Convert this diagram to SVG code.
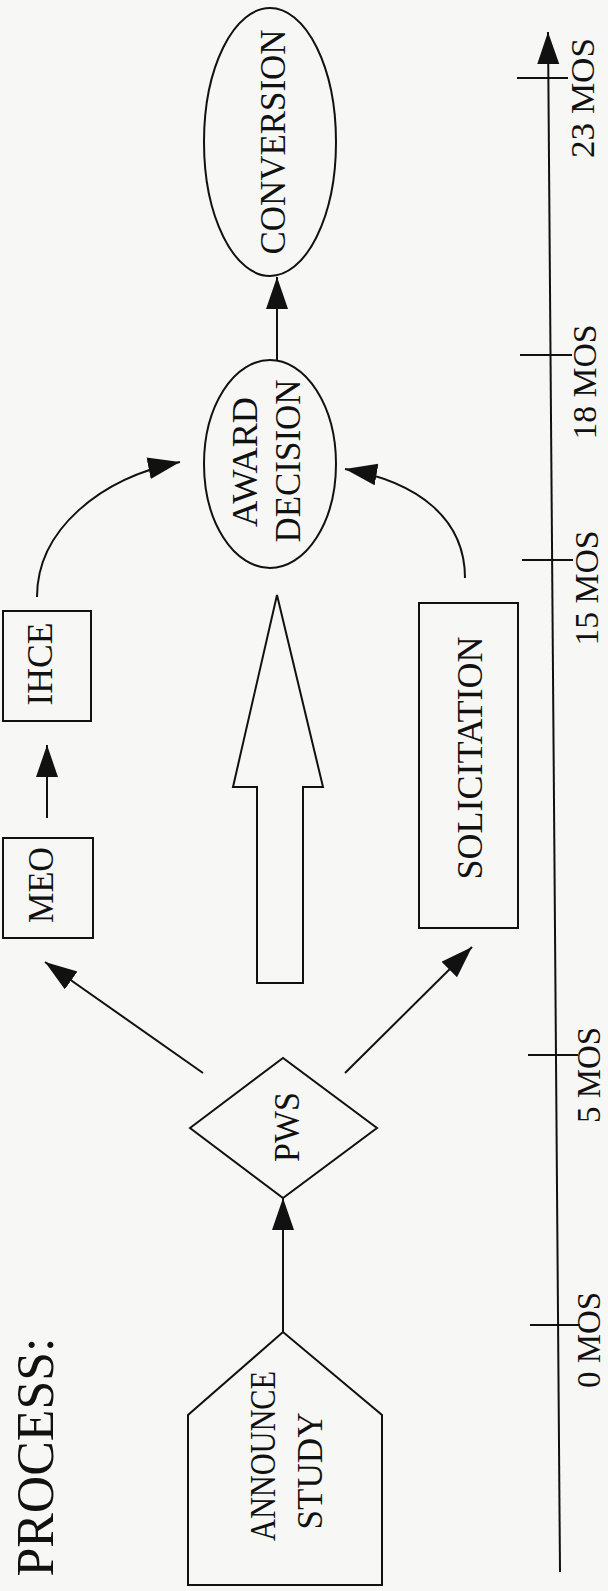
<svg xmlns="http://www.w3.org/2000/svg" width="608" height="1591" viewBox="0 0 608 1591">
<defs>
<marker id="ah" markerUnits="userSpaceOnUse" markerWidth="34" markerHeight="24" refX="32" refY="11" orient="auto">
<path d="M0,0 L32,11 L0,22 Z" fill="#111"/>
</marker>
<style>
.s{fill:none;stroke:#111;stroke-width:2}
.n{fill:#f7f7f5;stroke:#111;stroke-width:2}
.c{fill:none;stroke:#111;stroke-width:2;marker-end:url(#ah)}
text{font-family:"Liberation Serif","Times New Roman",serif;fill:#111;text-anchor:middle}
.t{font-size:35px}
.a{font-size:33px}
</style>
</defs>
<rect x="0" y="0" width="608" height="1591" fill="#f7f7f5"/>
<g id="title">
<text transform="translate(53,1457) rotate(-90)" style="font-size:52px" textLength="239" lengthAdjust="spacingAndGlyphs">PROCESS:</text>
</g>
<g id="connectors">
<line class="c" x1="283" y1="1332" x2="283" y2="1198"/>
<line class="c" x1="203" y1="1073" x2="45" y2="962"/>
<line class="c" x1="345" y1="1073" x2="472" y2="947"/>
<line class="c" x1="47" y1="818" x2="47" y2="745"/>
<path class="c" d="M37,597 C37,530 100,478 180,462"/>
<path class="c" d="M465,578 C465,520 420,482 345,469"/>
<line class="c" x1="277" y1="360" x2="277" y2="277"/>
</g>
<g id="announce-study">
<polygon class="n" points="188,1585 188,1415 283,1332 382,1415 382,1585"/>
<text class="t" transform="translate(275,1456) rotate(-90)" textLength="170" lengthAdjust="spacingAndGlyphs">ANNOUNCE</text>
<text class="t" transform="translate(322,1471) rotate(-90)" textLength="117" lengthAdjust="spacingAndGlyphs">STUDY</text>
</g>
<g id="pws">
<polygon class="n" points="190,1128 283,1058 377,1128 283,1198"/>
<text class="t" transform="translate(299,1127) rotate(-90)" textLength="70" lengthAdjust="spacingAndGlyphs">PWS</text>
</g>
<g id="meo">
<rect class="n" x="3" y="838" width="90" height="100"/>
<text class="t" transform="translate(53,885) rotate(-90)" textLength="76" lengthAdjust="spacingAndGlyphs">MEO</text>
</g>
<g id="ihce">
<rect class="n" x="3" y="611" width="88" height="110"/>
<text class="t" transform="translate(52,664) rotate(-90)" textLength="83" lengthAdjust="spacingAndGlyphs">IHCE</text>
</g>
<g id="big-arrow">
<polygon class="n" points="277,595 323,787 303,787 303,983 257,983 257,787 233,787"/>
</g>
<g id="solicitation">
<rect class="n" x="419" y="603" width="99" height="325"/>
<text class="t" transform="translate(482,758) rotate(-90)" textLength="243" lengthAdjust="spacingAndGlyphs">SOLICITATION</text>
</g>
<g id="award-decision">
<ellipse class="n" cx="270" cy="464" rx="66" ry="104"/>
<text class="t" transform="translate(257,462) rotate(-90)" textLength="130" lengthAdjust="spacingAndGlyphs">AWARD</text>
<text class="t" transform="translate(300,461) rotate(-90)" textLength="163" lengthAdjust="spacingAndGlyphs">DECISION</text>
</g>
<g id="conversion">
<ellipse class="n" cx="270" cy="142" rx="66" ry="134"/>
<text class="t" transform="translate(285,142) rotate(-90)" textLength="225" lengthAdjust="spacingAndGlyphs">CONVERSION</text>
</g>
<g id="timeline">
<line class="c" x1="560" y1="1572" x2="548" y2="32"/>
<line class="s" x1="517" y1="78" x2="568" y2="78"/>
<line class="s" x1="520" y1="355" x2="572" y2="355"/>
<line class="s" x1="522" y1="560" x2="573" y2="560"/>
<line class="s" x1="528" y1="1055" x2="578" y2="1055"/>
<line class="s" x1="530" y1="1325" x2="580" y2="1325"/>
<text class="a" transform="translate(594,98) rotate(-90)" textLength="120" lengthAdjust="spacingAndGlyphs">23 MOS</text>
<text class="a" transform="translate(596,382) rotate(-90)" textLength="115" lengthAdjust="spacingAndGlyphs">18 MOS</text>
<text class="a" transform="translate(598,588) rotate(-90)" textLength="115" lengthAdjust="spacingAndGlyphs">15 MOS</text>
<text class="a" transform="translate(600,1075) rotate(-90)" textLength="96" lengthAdjust="spacingAndGlyphs">5 MOS</text>
<text class="a" transform="translate(600,1340) rotate(-90)" textLength="96" lengthAdjust="spacingAndGlyphs">0 MOS</text>
</g>
</svg>
